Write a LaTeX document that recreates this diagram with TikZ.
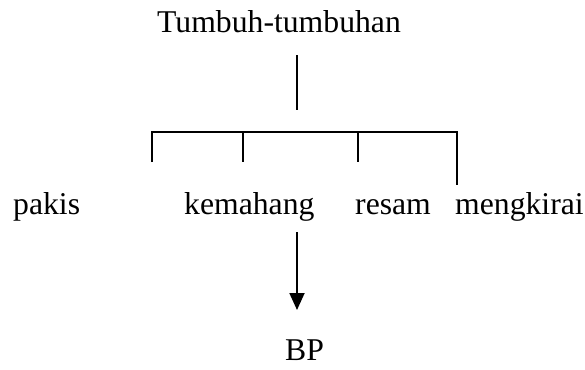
\documentclass[tikz,border=0pt]{standalone}
\usepackage{fontspec}
\setmainfont{Liberation Serif}
\usetikzlibrary{arrows.meta}
\begin{document}
\begin{tikzpicture}[x=1pt,y=-1pt,
  lbl/.style={inner sep=0pt,anchor=base west,font=\fontsize{31.7}{38}\selectfont},
  ln/.style={line width=1.5pt},
  arr/.style={line width=1.8pt,-{Triangle[width=15pt,length=17pt]}}]
\useasboundingbox (0,0) rectangle (585,369);
\node[lbl] (top) at (157,33) {Tumbuh-tumbuhan};
\node[lbl] (pakis) at (13,214) {pakis};
\node[lbl] (kem) at (184,214) {kemahang};
\node[lbl] (resam) at (355,214) {resam};
\node[lbl] (meng) at (455,214) {mengkirai};
\node[lbl] (bp) at (285,360) {BP};
\coordinate (v1) at (297,55);
\coordinate (v2) at (297,110);
\coordinate (b1) at (152,132);
\coordinate (b2) at (243,132);
\coordinate (b3) at (358,132);
\coordinate (b4) at (457,132);
\coordinate (t1) at (152,162);
\coordinate (t2) at (243,162);
\coordinate (t3) at (358,162);
\coordinate (t4) at (457,185);
\coordinate (a1) at (297,232);
\coordinate (a2) at (297,310);
\draw[ln] (v1) -- (v2);
\draw[ln] (t1) -- (b1) -- (b4) -- (t4);
\draw[ln] (b2) -- (t2);
\draw[ln] (b3) -- (t3);
\draw[arr] (a1) -- (a2);
\end{tikzpicture}
\end{document}
